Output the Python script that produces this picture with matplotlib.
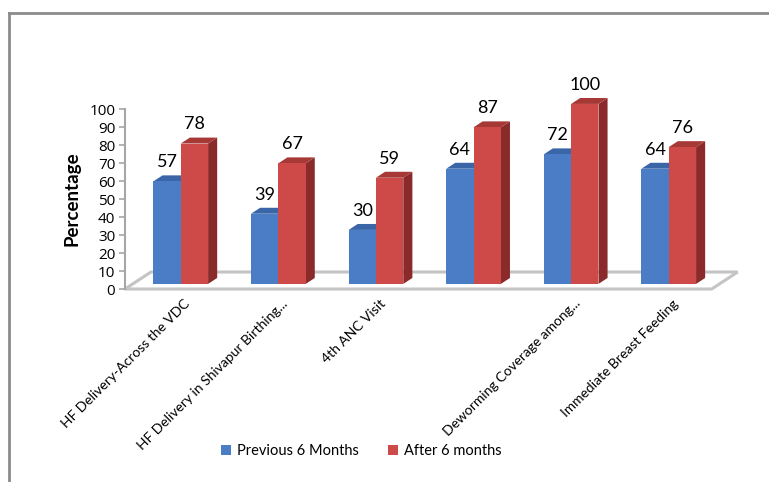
import matplotlib
matplotlib.use('Agg')
import matplotlib.pyplot as plt
from matplotlib.patches import Polygon, Patch
from matplotlib.lines import Line2D

plt.rcParams['font.family'] = ['Lato', 'DejaVu Sans']

# the fourth group carries no axis label
categories = [
    "HF Delivery-Across the VDC",
    "HF Delivery in Shivapur Birthing...",
    "4th ANC Visit",
    "",
    "Deworming Coverage among...",
    "Immediate Breast Feeding",
]
previous = [57, 39, 30, 64, 72, 64]
after = [78, 67, 59, 87, 100, 76]
series_names = ["Previous 6 Months", "After 6 months"]
yticks = list(range(0, 101, 10))

# face colours: front, top, side
blue = ("#4a7dc6", "#3a66a8", "#2c5189")
red = ("#cd4a49", "#a63836", "#8a2a2a")

# 3d depth of the floor (data units) and where the bars sit in it
DX, DY = 0.266, 9.44
t0, t1 = 0.30, 0.65
w = 0.28

fig = plt.figure(figsize=(7.69, 4.82), dpi=100)
ax = fig.add_axes([0.1625, 0.4004, 0.7932, 0.3734])
ax.set_xlim(-0.492, 5.758)
ax.set_ylim(0, 100)

# floor
xl, xr = -0.492, 5.52
floor = Polygon([(xl, 0), (xl + DX, DY), (xr + DX, DY), (xr, 0)],
                closed=True, facecolor="white", edgecolor="#c4c4c4", lw=2.2,
                zorder=1, clip_on=False)
ax.add_patch(floor)


def draw_bar(x0, x1, v, cols):
    base = t0 * DY
    ddx, ddy = (t1 - t0) * DX, (t1 - t0) * DY
    front = Polygon([(x0, base), (x1, base), (x1, base + v), (x0, base + v)],
                    facecolor=cols[0], edgecolor="none", zorder=3, clip_on=False)
    top = Polygon([(x0, base + v), (x0 + ddx, base + v + ddy),
                   (x1 + ddx, base + v + ddy), (x1, base + v)],
                  facecolor=cols[1], edgecolor="none", zorder=3, clip_on=False)
    side = Polygon([(x1, base), (x1 + ddx, base + ddy),
                    (x1 + ddx, base + v + ddy), (x1, base + v)],
                   facecolor=cols[2], edgecolor="none", zorder=3, clip_on=False)
    for p in (side, top, front):
        ax.add_patch(p)
    ax.annotate(str(v), xy=((x0 + x1) / 2, base + v), xytext=(0, 8),
                textcoords="offset points", ha="center", va="bottom",
                fontsize=13, zorder=5, annotation_clip=False)


for i in range(len(previous)):
    sx = t0 * DX
    draw_bar(i - w + sx, i + sx, previous[i], blue)
    draw_bar(i + sx, i + w + sx, after[i], red)

for i, lab in enumerate(categories):
    if not lab:
        continue
    ax.annotate(lab, xy=(i, 0), xytext=(8, -6), textcoords="offset points",
                rotation=45, ha="right", va="top", rotation_mode="anchor",
                fontsize=10, annotation_clip=False)

for s in ("top", "right", "bottom"):
    ax.spines[s].set_visible(False)
ax.spines["left"].set_color("#a6a6a6")
ax.spines["left"].set_linewidth(1.5)
ax.set_xticks([])
ax.set_yticks(yticks)
ax.set_yticklabels([str(t) for t in yticks], family=["Open Sans", "DejaVu Sans"])
ax.tick_params(axis="y", length=4, width=1.2, color="#a6a6a6", labelsize=11, pad=3)
ax.set_ylabel("Percentage", fontsize=13.5, fontweight="bold", labelpad=6)
ax.patch.set_visible(False)

handles = [Patch(facecolor=blue[0]), Patch(facecolor=red[0])]
fig.legend(handles, series_names, loc="center", bbox_to_anchor=(0.47, 0.064),
           ncol=2, frameon=False, fontsize=10.5, handlelength=0.7,
           handleheight=0.7, handletextpad=0.4, columnspacing=2.0)

# outer chart border (top and left edges)
fig.add_artist(Line2D([9 / 769, 1], [1 - 13 / 482, 1 - 13 / 482], color="#8c8c8c", lw=2))
fig.add_artist(Line2D([9 / 769, 9 / 769], [0, 1 - 13 / 482], color="#8c8c8c", lw=2))

fig.savefig("out.png", dpi=100)
